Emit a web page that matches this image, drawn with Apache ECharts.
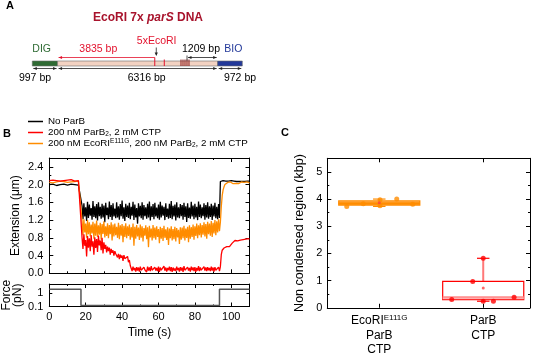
<!DOCTYPE html>
<html><head><meta charset="utf-8">
<script src="https://cdn.jsdelivr.net/npm/echarts@6/dist/echarts.min.js"></script>
<style>html,body{margin:0;padding:0;background:#fff}#c{width:536px;height:356px}</style>
</head><body><div id="c"></div>
<script>
// ---------------- Panel A: DNA construct (bp) ----------------
const segStart = [0, 997, 7313];
const segEnd = [997, 7313, 8285];
const segColor = ['#2f6b34', '#f3d2c2', '#23399a'];
const ecoriSites = [4832, 5207, 5866, 5945, 6024, 6103, 6182];
const firstSiteDistance = 3835;   // bp from DIG handle to first site
const lastSiteDistance = 1209;    // bp from last site to BIO handle

// ---------------- Panel B: extension traces (um) ----------------
// pre-phase sampled every 1 s from 0 s, middle every 0.5 s from 18 s, post every 0.5 s from 94 s
const PRE_T0 = 0, PRE_DT = 1, MID_T0 = 18, MID_DT = 0.5, POST_T0 = 94, POST_DT = 0.5;

const blackPre = [2.00,1.99,2.01,2.00,1.98,2.01,2.00,1.99,2.01,2.00,1.99,2.00,2.01,1.98,2.00,2.01,1.99,2.00];
const blackMid = [
1.52,1.22,1.58,1.28,1.49,1.18,1.61,1.25,1.55,1.30,
1.47,1.21,1.63,1.27,1.51,1.24,1.56,1.19,1.60,1.29,
1.50,1.23,1.57,1.26,1.53,1.15,1.59,1.31,1.48,1.22,
1.62,1.27,1.54,1.20,1.58,1.28,1.46,1.24,1.60,1.26,
1.51,1.21,1.56,1.29,1.64,1.23,1.49,1.18,1.57,1.27,
1.53,1.25,1.59,1.22,1.50,1.30,1.61,1.20,1.55,1.26,
1.47,1.12,1.58,1.28,1.52,1.24,1.60,1.21,1.54,1.29,
1.49,1.23,1.57,1.26,1.62,1.19,1.51,1.27,1.56,1.22,
1.59,1.28,1.48,1.24,1.55,1.21,1.61,1.26,1.53,1.30,
1.50,1.20,1.58,1.27,1.46,1.23,1.57,1.25,1.63,1.22,
1.52,1.28,1.55,1.19,1.60,1.26,1.49,1.24,1.56,1.29,
1.54,1.21,1.59,1.27,1.51,1.16,1.58,1.25,1.48,1.23,
1.61,1.28,1.53,1.22,1.57,1.26,1.50,1.20,1.62,1.27,
1.55,1.24,1.49,1.29,1.58,1.21,1.54,1.26,1.60,1.23,
1.51,1.27,1.57,1.20,1.53,1.28,1.59,1.24,1.50,1.22,
1.56,1.25];
const blackPost = [2.07,2.08,2.07,2.09,2.08,2.07,2.08,2.09,2.07,2.08,2.08,2.07,2.09,2.08,2.07,2.08,2.09,2.08,2.07,2.08,2.09,2.07,2.08,2.08,2.07,2.09,2.08,2.07,2.08,2.09,2.08,2.07,2.08];

const orangePre = [2.05,2.07,2.04,2.08,2.06,2.05,2.08,2.04,2.07,2.06,2.05,2.08,2.06,2.04,2.07,2.05,2.08,2.06];
const orangeMid = [
1.18,0.86,1.22,0.92,1.12,0.80,1.20,0.88,1.15,0.83,
1.10,0.90,1.16,0.78,1.12,0.85,1.19,0.82,1.08,0.87,
1.14,0.76,1.11,0.89,1.17,0.81,1.06,0.84,1.13,0.79,
1.09,0.88,1.15,0.74,1.10,0.83,1.12,0.86,1.05,0.80,
1.14,0.77,1.08,0.85,1.11,0.70,1.07,0.82,1.13,0.79,
1.06,0.84,1.10,0.76,1.04,0.81,1.12,0.62,1.05,0.78,
1.09,0.83,1.03,0.75,1.10,0.80,1.06,0.72,1.02,0.85,
1.08,0.77,1.04,0.59,1.07,0.81,1.01,0.74,1.09,0.79,
1.03,0.76,1.06,0.82,1.00,0.68,1.05,0.78,1.02,0.73,
1.07,0.80,0.99,0.75,1.04,0.64,1.01,0.79,1.06,0.74,
1.00,0.77,1.05,0.72,1.02,0.81,0.98,0.66,1.04,0.76,
1.03,0.79,1.07,0.74,1.01,0.80,1.05,0.70,1.08,0.78,
1.04,0.82,1.10,0.76,1.06,0.84,1.12,0.79,1.08,0.86,
1.13,0.81,1.09,0.87,1.15,0.83,1.11,0.78,1.16,0.88,
1.12,0.85,1.18,0.82,1.14,0.90,1.20,0.86,1.17,0.92,
1.22,0.95];
const orangePost = [1.15,1.50,1.75,1.88,1.95,2.00,2.02,2.03,2.05,2.02,2.04,2.06,2.03,2.05,2.02,2.04,2.06,2.03,2.05,2.04,2.02,2.05,2.03,2.06,2.04,2.02,2.05,2.03,2.04,2.06,2.03,2.05,2.04];

const redPre = [2.09,2.08,2.10,2.07,2.09,2.11,2.08,2.10,2.09,2.07,2.10,2.08,2.11,2.09,2.08,2.10,2.09,2.10];
const redMid = [
0.80,0.55,0.88,0.62,0.75,0.38,0.84,0.58,0.79,0.50,
0.86,0.60,0.72,0.42,0.81,0.57,0.77,0.48,0.85,0.63,
0.74,0.52,0.80,0.45,0.70,0.55,0.64,0.47,0.60,0.50,
0.58,0.42,0.55,0.46,0.52,0.40,0.50,0.44,0.47,0.36,
0.44,0.32,0.42,0.35,0.40,0.28,0.41,0.33,0.37,0.30,
0.38,0.25,0.30,0.17,0.14,0.05,0.15,0.07,0.12,0.04,
0.14,0.06,0.13,0.04,0.15,0.07,0.11,0.05,0.14,0.08,
0.12,0.03,0.15,0.06,0.13,0.05,0.16,0.07,0.11,0.04,
0.14,0.06,0.12,0.05,0.15,0.03,0.13,0.07,0.11,0.05,
0.16,0.06,0.13,0.04,0.12,0.07,0.15,0.05,0.14,0.03,
0.13,0.06,0.11,0.05,0.15,0.07,0.12,0.04,0.14,0.06,
0.13,0.03,0.16,0.07,0.11,0.05,0.14,0.06,0.12,0.04,
0.15,0.07,0.13,0.05,0.14,0.03,0.12,0.06,0.16,0.05,
0.13,0.07,0.11,0.04,0.15,0.06,0.13,0.05,0.14,0.07,
0.12,0.05,0.15,0.06,0.13,0.04,0.14,0.07,0.11,0.06,
0.14,0.05];
const redPost = [0.15,0.42,0.52,0.55,0.57,0.56,0.58,0.60,0.59,0.61,0.60,0.63,0.64,0.68,0.71,0.72,0.74,0.72,0.75,0.73,0.76,0.74,0.75,0.77,0.74,0.76,0.78,0.75,0.77,0.79,0.76,0.78,0.77];

// force protocol (pN)
const forceTimes = [0, 17.4, 17.4, 93.5, 93.5, 110];
const forceValues = [2, 2, 0.12, 0.12, 2, 2];

// ---------------- Panel C: box plots (kbp) ----------------
const boxX = [1, 2];
const boxLow = [3.73, 0.24];
const boxQ1 = [3.78, 0.30];
const boxMed = [3.85, 0.39];
const boxQ3 = [3.93, 0.97];
const boxHigh = [4.00, 1.82];
const boxMean = [3.86, 0.73];
const ecoX = [0.687, 0.846, 1.007, 1.007, 1.168, 1.322];
const ecoY = [3.73, 3.83, 3.97, 3.75, 4.00, 3.81];
const parX = [1.697, 1.899, 2.0, 2.0, 2.098, 2.297];
const parY = [0.30, 0.97, 1.82, 0.24, 0.24, 0.39];

// -------------------------------------------------------------
const FONT = "'Liberation Sans', Arial, Helvetica, sans-serif";
const BLACK = '#000000', ORANGE = '#ff8c00', RED = '#ff0000';

function buildTrace(pre, mid, post) {
  const d = [];
  pre.forEach((v, i) => d.push([PRE_T0 + i * PRE_DT, v]));
  mid.forEach((v, i) => d.push([MID_T0 + i * MID_DT, v]));
  post.forEach((v, i) => d.push([POST_T0 + i * POST_DT, v]));
  return d;
}

const chart = echarts.init(document.getElementById('c'), null, { renderer: 'canvas', width: 536, height: 356 });

const tickIn = (len) => ({ show: true, inside: true, length: len, lineStyle: { color: '#000', width: 1 } });
const minorIn = { show: true, splitNumber: 2, length: 2, lineStyle: { color: '#000', width: 1 } };
const axLine = { show: true, onZero: false, lineStyle: { color: '#000', width: 1 } };
const lblStyle = { color: '#000', fontFamily: FONT, fontSize: 11 };

// Panel A renderers
function renderSegment(params, api) {
  const s = api.value(0), e = api.value(1), idx = api.value(2);
  const p1 = api.coord([s, 0.5]), p2 = api.coord([e, 0.5]);
  return { type: 'rect', shape: { x: p1[0], y: p1[1] - 2.5, width: p2[0] - p1[0], height: 5 },
    style: { fill: segColor[idx], stroke: '#6a6a6a', lineWidth: 0.6 } };
}
function renderSite(params, api) {
  const bp = api.value(0), idx = params.dataIndex;
  const p = api.coord([bp, 0.5]);
  const top = idx === 0 ? p[1] - 6 : p[1] - 4;
  return { type: 'line', shape: { x1: p[0], y1: top, x2: p[0], y2: p[1] + 2.5 },
    style: { stroke: idx < 2 ? '#e3122d' : '#8e1a1a', lineWidth: 1 } };
}
function arrowParts(x1, x2, y, color, leftHead, rightHead) {
  const ch = [{ type: 'line', shape: { x1: x1, y1: y, x2: x2, y2: y }, style: { stroke: color, lineWidth: 0.8 } }];
  if (leftHead) ch.push({ type: 'polygon', shape: { points: [[x1, y], [x1 + 3.5, y - 1.6], [x1 + 3.5, y + 1.6]] }, style: { fill: color } });
  if (rightHead) ch.push({ type: 'polygon', shape: { points: [[x2, y], [x2 - 3.5, y - 1.6], [x2 - 3.5, y + 1.6]] }, style: { fill: color } });
  return ch;
}
function renderAnnot(params, api) {
  const X = (bp) => api.coord([bp, 0.5])[0];
  const cy = api.coord([0, 0.5])[1];
  let ch = [];
  for (let i = 0; i < segStart.length; i++) {
    ch = ch.concat(arrowParts(X(segStart[i]) + 1, X(segEnd[i]) - 1, cy + 5, '#222', true, true));
  }
  const firstSite = segEnd[0] + firstSiteDistance;
  ch = ch.concat(arrowParts(X(segEnd[0]) + 1, X(firstSite), cy - 6, '#e3122d', true, false));
  const lastSite = segStart[2] - lastSiteDistance;
  ch = ch.concat(arrowParts(X(lastSite) + 1, X(segStart[2]) - 1, cy - 6, '#222', true, true));
  ch.push({ type: 'line', shape: { x1: X(lastSite), y1: cy - 8, x2: X(lastSite), y2: cy - 3 }, style: { stroke: '#222', lineWidth: 0.8 } });
  const px = X(firstSite) + 1.5;
  ch.push({ type: 'line', shape: { x1: px, y1: cy - 16, x2: px, y2: cy - 9 }, style: { stroke: '#222', lineWidth: 0.8 } });
  ch.push({ type: 'polygon', shape: { points: [[px, cy - 7.5], [px - 1.6, cy - 11], [px + 1.6, cy - 11]] }, style: { fill: '#222' } });
  return { type: 'group', children: ch };
}

// Panel C renderer
const boxStroke = [ORANGE, RED];
const boxFill = ['#ffb35c', 'rgba(255,255,255,0)'];
const whiskColor = [ORANGE, '#ff7878'];
const BOX_HALF = 0.39, CAP_HALF = 0.06;
function renderBox(params, api) {
  const x = api.value(0), i = params.dataIndex;
  const xl = api.coord([x - BOX_HALF, 0])[0], xr = api.coord([x + BOX_HALF, 0])[0];
  const cl = api.coord([x - CAP_HALF, 0])[0], cr = api.coord([x + CAP_HALF, 0])[0];
  const xc = api.coord([x, 0])[0];
  const yLow = api.coord([x, api.value(1)])[1], yQ1 = api.coord([x, api.value(2)])[1];
  const yMed = api.coord([x, api.value(3)])[1], yQ3 = api.coord([x, api.value(4)])[1];
  const yHigh = api.coord([x, api.value(5)])[1];
  const wc = whiskColor[i], sc = boxStroke[i];
  return { type: 'group', children: [
    { type: 'line', shape: { x1: xc, y1: yHigh, x2: xc, y2: yQ3 }, style: { stroke: wc, lineWidth: 2 } },
    { type: 'line', shape: { x1: xc, y1: yQ1, x2: xc, y2: yLow }, style: { stroke: wc, lineWidth: 2 } },
    { type: 'line', shape: { x1: cl, y1: yHigh, x2: cr, y2: yHigh }, style: { stroke: sc, lineWidth: 1.2 } },
    { type: 'line', shape: { x1: cl, y1: yLow, x2: cr, y2: yLow }, style: { stroke: sc, lineWidth: 1.2 } },
    { type: 'rect', shape: { x: xl, y: yQ3, width: xr - xl, height: yQ1 - yQ3 }, style: { fill: boxFill[i], stroke: sc, lineWidth: 1.2 } },
    { type: 'line', shape: { x1: xl, y1: yMed, x2: xr, y2: yMed }, style: { stroke: i === 0 ? ORANGE : '#ff8a8a', lineWidth: 1.6 } },
    { type: 'line', shape: { x1: xl, y1: yQ1 - 1, x2: xr, y2: yQ1 - 1 }, style: { stroke: i === 0 ? ORANGE : '#ffb0b0', lineWidth: 1.5 } }
  ] };
}

const legendNames = {
  'No ParB': '{n|No ParB}',
  'ParB CTP': '{n|200 nM ParB}{sb|2}{n|, 2 mM CTP}',
  'EcoRI ParB CTP': '{n|200 nM EcoRI}{sp|E111G}{n|, 200 nM ParB}{sb|2}{n|, 2 mM CTP}'
};

const option = {
  animation: false,
  backgroundColor: '#fff',
  textStyle: { fontFamily: FONT },
  grid: [
    { left: 49.3, top: 158, width: 200.2, height: 115.3, containLabel: false },
    { left: 49.3, top: 284, width: 200.2, height: 22.5, containLabel: false },
    { left: 327.3, top: 158.3, width: 202.7, height: 151.7, containLabel: false },
    { left: 32.3, top: 56, width: 210, height: 15, containLabel: false }
  ],
  legend: {
    left: 28, top: 116, orient: 'vertical', itemGap: 0, padding: 0,
    icon: 'rect', itemWidth: 15, itemHeight: 1.5,
    data: ['No ParB', 'ParB CTP', 'EcoRI ParB CTP'],
    formatter: (n) => legendNames[n],
    textStyle: { color: '#000', fontFamily: FONT, fontSize: 9.8, lineHeight: 11,
      rich: {
        n: { fontSize: 9.8, lineHeight: 11, fontFamily: FONT, color: '#000' },
        sb: { fontSize: 6.5, lineHeight: 11, verticalAlign: 'bottom', fontFamily: FONT, color: '#000' },
        sp: { fontSize: 6.5, lineHeight: 11, verticalAlign: 'top', fontFamily: FONT, color: '#000' }
      } }
  },
  xAxis: [
    { gridIndex: 0, type: 'value', min: 0, max: 110, interval: 20, position: 'bottom',
      axisLine: axLine, axisTick: tickIn(4), minorTick: minorIn, axisLabel: { show: false }, splitLine: { show: false } },
    { gridIndex: 0, type: 'value', min: 0, max: 110, interval: 20, position: 'top',
      axisLine: axLine, axisTick: tickIn(4), minorTick: minorIn, axisLabel: { show: false }, splitLine: { show: false } },
    { gridIndex: 1, type: 'value', min: 0, max: 110, interval: 20, position: 'bottom',
      axisLine: axLine, axisTick: tickIn(4), minorTick: minorIn,
      axisLabel: { ...lblStyle, margin: 5, formatter: (v) => (v % 20 === 0 ? String(v) : '') }, splitLine: { show: false },
      name: 'Time (s)', nameLocation: 'middle', nameGap: 20, nameTextStyle: { color: '#000', fontFamily: FONT, fontSize: 12 } },
    { gridIndex: 1, type: 'value', min: 0, max: 110, interval: 20, position: 'top',
      axisLine: axLine, axisTick: tickIn(4), minorTick: minorIn, axisLabel: { show: false }, splitLine: { show: false } },
    { gridIndex: 2, type: 'value', min: 0.5, max: 2.45, position: 'bottom',
      axisLine: axLine, axisTick: { ...tickIn(4), customValues: boxX }, splitLine: { show: false },
      axisLabel: { customValues: boxX, margin: 6, color: '#000', fontFamily: FONT, fontSize: 12,
        formatter: (v) => (v === 1 ? '{n|EcoRI}{s|E111G}\n{n|ParB}\n{n|CTP}' : v === 2 ? '{n|ParB}\n{n|CTP}' : ''),
        rich: { n: { fontSize: 12, lineHeight: 14.5, fontFamily: FONT, color: '#000' },
                s: { fontSize: 8, lineHeight: 14.5, verticalAlign: 'top', fontFamily: FONT, color: '#000' } } } },
    { gridIndex: 2, type: 'value', min: 0.5, max: 2.45, position: 'top',
      axisLine: axLine, axisTick: { ...tickIn(4), customValues: boxX }, axisLabel: { show: false }, splitLine: { show: false } },
    { gridIndex: 3, type: 'value', min: 0, max: segEnd[segEnd.length - 1], show: false }
  ],
  yAxis: [
    { gridIndex: 0, type: 'value', min: 0, max: 2.6, interval: 0.4, position: 'left',
      axisLine: axLine, axisTick: tickIn(4), minorTick: minorIn, splitLine: { show: false },
      axisLabel: { ...lblStyle, margin: 6, formatter: (v) => (v > 2.45 ? '' : v.toFixed(1)) },
      name: 'Extension (\u03bcm)', nameLocation: 'middle', nameGap: 28, nameRotate: 90,
      nameTextStyle: { color: '#000', fontFamily: FONT, fontSize: 12 } },
    { gridIndex: 0, type: 'value', min: 0, max: 2.6, interval: 0.4, position: 'right',
      axisLine: axLine, axisTick: tickIn(4), minorTick: minorIn, splitLine: { show: false }, axisLabel: { show: false } },
    { gridIndex: 1, type: 'log', logBase: 10, min: 0.1, max: 5, position: 'left',
      axisLine: axLine, axisTick: tickIn(3), splitLine: { show: false },
      axisLabel: { ...lblStyle, margin: 6, formatter: (v) => (Math.abs(v - 0.1) < 1e-6 ? '0.1' : Math.abs(v - 1) < 1e-6 ? '1' : '') },
      name: 'Force\n(pN)', nameLocation: 'middle', nameGap: 22, nameRotate: 90,
      nameTextStyle: { color: '#000', fontFamily: FONT, fontSize: 12, lineHeight: 11 } },
    { gridIndex: 1, type: 'log', logBase: 10, min: 0.1, max: 5, position: 'right',
      axisLine: axLine, axisTick: tickIn(3), splitLine: { show: false }, axisLabel: { show: false } },
    { gridIndex: 2, type: 'value', min: 0, max: 5.5, interval: 1, position: 'left',
      axisLine: axLine, axisTick: tickIn(4), minorTick: minorIn, splitLine: { show: false },
      axisLabel: { ...lblStyle, margin: 5, formatter: (v) => (v > 5.2 ? '' : String(v)) },
      name: 'Non condensed region (kbp)', nameLocation: 'middle', nameGap: 21, nameRotate: 90,
      nameTextStyle: { color: '#000', fontFamily: FONT, fontSize: 12.5 } },
    { gridIndex: 2, type: 'value', min: 0, max: 5.5, interval: 1, position: 'right',
      axisLine: axLine, axisTick: tickIn(4), minorTick: minorIn, splitLine: { show: false }, axisLabel: { show: false } },
    { gridIndex: 3, type: 'value', min: 0, max: 1, show: false }
  ],
  series: [
    { name: 'No ParB', type: 'line', xAxisIndex: 0, yAxisIndex: 0, data: buildTrace(blackPre, blackMid, blackPost),
      showSymbol: false, symbol: 'none', lineStyle: { color: BLACK, width: 1.3 }, itemStyle: { color: BLACK }, z: 2 },
    { name: 'EcoRI ParB CTP', type: 'line', xAxisIndex: 0, yAxisIndex: 0, data: buildTrace(orangePre, orangeMid, orangePost),
      showSymbol: false, symbol: 'none', lineStyle: { color: ORANGE, width: 1.3 }, itemStyle: { color: ORANGE }, z: 3 },
    { name: 'ParB CTP', type: 'line', xAxisIndex: 0, yAxisIndex: 0, data: buildTrace(redPre, redMid, redPost),
      showSymbol: false, symbol: 'none', lineStyle: { color: RED, width: 1.3 }, itemStyle: { color: RED }, z: 4 },
    { name: 'Force', type: 'line', xAxisIndex: 2, yAxisIndex: 2, data: forceTimes.map((t, i) => [t, forceValues[i]]),
      showSymbol: false, symbol: 'none', lineStyle: { color: '#555', width: 1.5 } },
    { name: 'boxes', type: 'custom', xAxisIndex: 4, yAxisIndex: 4, renderItem: renderBox,
      data: boxX.map((x, i) => [x, boxLow[i], boxQ1[i], boxMed[i], boxQ3[i], boxHigh[i]]), z: 3 },
    { name: 'eco pts', type: 'scatter', xAxisIndex: 4, yAxisIndex: 4, symbolSize: 5,
      data: ecoX.map((x, i) => [x, ecoY[i]]), itemStyle: { color: ORANGE }, z: 5 },
    { name: 'par pts', type: 'scatter', xAxisIndex: 4, yAxisIndex: 4, symbolSize: 5,
      data: parX.map((x, i) => [x, parY[i]]), itemStyle: { color: RED }, z: 5 },
    { name: 'means', type: 'scatter', xAxisIndex: 4, yAxisIndex: 4, symbolSize: 3,
      data: boxX.map((x, i) => [x, boxMean[i]]), itemStyle: { color: '#ff4040' }, z: 5 },
    { name: 'dna', type: 'custom', xAxisIndex: 6, yAxisIndex: 6, renderItem: renderSegment,
      data: segStart.map((s, i) => [s, segEnd[i], i]), z: 2 },
    { name: 'sites', type: 'custom', xAxisIndex: 6, yAxisIndex: 6, renderItem: renderSite,
      data: ecoriSites.map((s) => [s]), z: 3 },
    { name: 'annot', type: 'custom', xAxisIndex: 6, yAxisIndex: 6, renderItem: renderAnnot, data: [[0]], z: 3 }
  ],
  graphic: [
    { type: 'text', x: 10, y: 6, style: { text: 'A', font: 'bold 11px ' + FONT, fill: '#000', align: 'center', verticalAlign: 'middle' } },
    { type: 'text', x: 7, y: 134, style: { text: 'B', font: 'bold 11px ' + FONT, fill: '#000', align: 'center', verticalAlign: 'middle' } },
    { type: 'text', x: 285, y: 133, style: { text: 'C', font: 'bold 11px ' + FONT, fill: '#000', align: 'center', verticalAlign: 'middle' } },
    { type: 'text', x: 148, y: 18, style: { text: '{a|EcoRI 7x }{b|parS}{a| DNA}', align: 'center', verticalAlign: 'middle',
      rich: { a: { font: 'bold 12px ' + FONT, fill: '#a8132c' }, b: { font: 'italic bold 12px ' + FONT, fill: '#a8132c' } } } },
    { type: 'text', x: 41.7, y: 49, style: { text: 'DIG', font: '10.5px ' + FONT, fill: '#2f6b34', align: 'center', verticalAlign: 'middle' } },
    { type: 'text', x: 98.3, y: 49, style: { text: '3835 bp', font: '10.5px ' + FONT, fill: '#e3122d', align: 'center', verticalAlign: 'middle' } },
    { type: 'text', x: 156.7, y: 41, style: { text: '5xEcoRI', font: '10.5px ' + FONT, fill: '#e3122d', align: 'center', verticalAlign: 'middle' } },
    { type: 'text', x: 201, y: 49, style: { text: '1209 bp', font: '10.5px ' + FONT, fill: '#000', align: 'center', verticalAlign: 'middle' } },
    { type: 'text', x: 233.3, y: 49, style: { text: 'BIO', font: '10.5px ' + FONT, fill: '#23399a', align: 'center', verticalAlign: 'middle' } },
    { type: 'text', x: 35, y: 78, style: { text: '997 bp', font: '10.5px ' + FONT, fill: '#000', align: 'center', verticalAlign: 'middle' } },
    { type: 'text', x: 146.7, y: 78, style: { text: '6316 bp', font: '10.5px ' + FONT, fill: '#000', align: 'center', verticalAlign: 'middle' } },
    { type: 'text', x: 240, y: 78, style: { text: '972 bp', font: '10.5px ' + FONT, fill: '#000', align: 'center', verticalAlign: 'middle' } }
  ]
};
chart.setOption(option);
</script>
</body></html>
